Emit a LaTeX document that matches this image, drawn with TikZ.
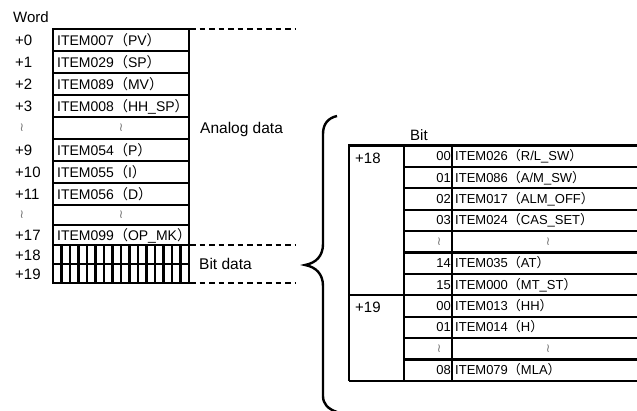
\documentclass[tikz,border=0pt]{standalone}
\usepackage{fontspec}
\setmainfont{Liberation Sans}
\newfontfamily\cjk{Noto Sans CJK JP}
\newfontfamily\djv{DejaVu Sans}
\newcommand{\fpar}[1]{{\cjk （}#1{\cjk ）}}
\newcommand{\zzmark}{{\djv\color{black!55}≀}}
\tikzset{
  outlbl/.style={anchor=base west,inner sep=0pt,font=\fontsize{15}{15}\selectfont},
  ltxt/.style={anchor=base west,inner sep=0pt,font=\fontsize{14}{14}\selectfont},
  rtxt/.style={anchor=base west,inner sep=0pt,font=\fontsize{13}{13}\selectfont},
  rnum/.style={anchor=base east,inner sep=0pt,font=\fontsize{13}{13}\selectfont},
  zz/.style={inner sep=0pt,font=\fontsize{12}{12}\selectfont},
  gridln/.style={line width=2.1pt},
  frameln/.style={line width=2.7pt},
  dashln/.style={line width=1.8pt,dash pattern=on 5.5pt off 4pt},
}
\begin{document}
\begin{tikzpicture}[x=1pt,y=-1pt]
\useasboundingbox (0,0) rectangle (637,410);
\clip (0,0) rectangle (637,410);
% ---------- left table ----------
\foreach \yy in {51,73,95,117,139,161,183,205,225,245,264}
  \draw[gridln] (53,\yy) -- (189,\yy);
\foreach \k in {1,...,15}
  \draw[gridln] (53+8.5*\k,245) -- (53+8.5*\k,283);
\draw[line width=2.8pt] (121,245) -- (121,283);
\draw[frameln] (53,29) rectangle (189,283);
% dashed lines
\coordinate (d1a) at (190,29);  \coordinate (d1b) at (296,29);
\coordinate (d2a) at (190,245); \coordinate (d2b) at (296,245);
\coordinate (d3a) at (190,283); \coordinate (d3b) at (296,283);
\draw[dashln] (d1a) -- (d1b);
\draw[dashln] (d2a) -- (d2b);
\draw[dashln] (d3a) -- (d3b);
% labels
\node[outlbl] (word) at (13,22) {Word};
\node[outlbl] (l0) at (15,45.5) {+0};
\node[outlbl] (l1) at (15,67.5) {+1};
\node[outlbl] (l2) at (15,89.5) {+2};
\node[outlbl] (l3) at (15,111.5) {+3};
\node[zz] (lz1) at (22,128) {\zzmark};
\node[outlbl] (l9) at (15,155.5) {+9};
\node[outlbl] (l10) at (15,177.5) {+10};
\node[outlbl] (l11) at (15,199.5) {+11};
\node[zz] (lz2) at (22,215) {\zzmark};
\node[outlbl] (l17) at (15,240.5) {+17};
\node[outlbl] (l18) at (15,260) {+18};
\node[outlbl] (l19) at (15,279) {+19};
% items
\node[ltxt] (i0) at (57,45) {ITEM007\fpar{PV}};
\node[ltxt] (i1) at (57,67) {ITEM029\fpar{SP}};
\node[ltxt] (i2) at (57,89) {ITEM089\fpar{MV}};
\node[ltxt] (i3) at (57,111) {ITEM008\fpar{HH\_SP}};
\node[zz] (iz1) at (121,128) {\zzmark};
\node[ltxt] (i9) at (57,155) {ITEM054\fpar{P}};
\node[ltxt] (i10) at (57,177) {ITEM055\fpar{I}};
\node[ltxt] (i11) at (57,199) {ITEM056\fpar{D}};
\node[zz] (iz2) at (121,215) {\zzmark};
\node[ltxt] (i17) at (57,240) {ITEM099\fpar{OP\_MK}};
\node[outlbl,font=\fontsize{15.5}{15.5}\selectfont] (analog) at (200,133) {Analog data};
\node[outlbl,font=\fontsize{15.5}{15.5}\selectfont] (bitdata) at (199,269) {Bit data};
% ---------- brace ----------
\draw[line width=2.4pt] (337,116) .. controls (328,118) and (323,124) .. (323,134)
  -- (323,244) .. controls (323,256) and (316,263) .. (305,265)
  .. controls (316,267) and (323,274) .. (323,286)
  -- (323,396) .. controls (323,404) and (328,409) .. (337,412);
% ---------- right table ----------
\node[outlbl] (bit) at (410,140) {Bit};
\foreach \k in {1,...,6,8,9,10}
  \draw[gridln] (404,145.5+21.4*\k) -- (650,145.5+21.4*\k);
\draw[gridln] (349,295.3) -- (650,295.3);
\draw[gridln] (404,145.5) -- (404,380.9);
\draw[gridln] (452,145.5) -- (452,380.9);
\draw[frameln] (349,380.9) -- (349,145.5) -- (650,145.5);
\draw[frameln] (349,380.9) -- (650,380.9);
\node[outlbl] (w18) at (355,163) {+18};
\node[outlbl] (w19) at (355,312) {+19};
\node[rnum] (b0) at (451,160.7) {00};
\node[rtxt] (t0) at (455,160.7) {ITEM026\fpar{R/L\_SW}};
\node[rnum] (b1) at (451,182.1) {01};
\node[rtxt] (t1) at (455,182.1) {ITEM086\fpar{A/M\_SW}};
\node[rnum] (b2) at (451,203.5) {02};
\node[rtxt] (t2) at (455,203.5) {ITEM017\fpar{ALM\_OFF}};
\node[rnum] (b3) at (451,224.9) {03};
\node[rtxt] (t3) at (455,224.9) {ITEM024\fpar{CAS\_SET}};
\node[zz] (bz1) at (439,241.8) {\zzmark};
\node[zz] (tz1) at (548,241.8) {\zzmark};
\node[rnum] (b5) at (451,267.7) {14};
\node[rtxt] (t5) at (455,267.7) {ITEM035\fpar{AT}};
\node[rnum] (b6) at (451,289.1) {15};
\node[rtxt] (t6) at (455,289.1) {ITEM000\fpar{MT\_ST}};
\node[rnum] (b7) at (451,310.5) {00};
\node[rtxt] (t7) at (455,310.5) {ITEM013\fpar{HH}};
\node[rnum] (b8) at (451,331.9) {01};
\node[rtxt] (t8) at (455,331.9) {ITEM014\fpar{H}};
\node[zz] (bz2) at (439,348.8) {\zzmark};
\node[zz] (tz2) at (548,348.8) {\zzmark};
\node[rnum] (b10) at (451,374.7) {08};
\node[rtxt] (t10) at (455,374.7) {ITEM079\fpar{MLA}};
\end{tikzpicture}
\end{document}
